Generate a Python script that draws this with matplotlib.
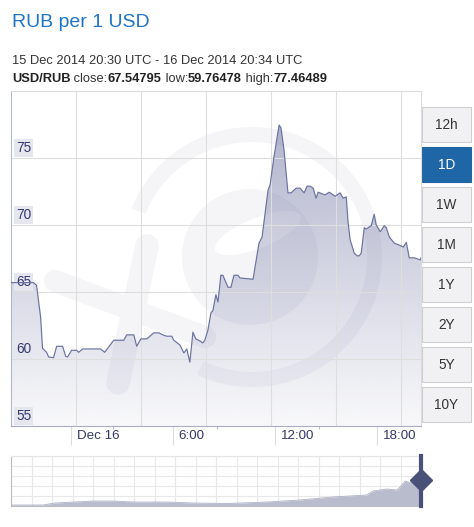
import numpy as np
import matplotlib
matplotlib.use("Agg")
import matplotlib.pyplot as plt
from matplotlib import transforms
from matplotlib.patches import Rectangle, Circle, Wedge, Ellipse

plt.rcParams['font.family'] = ['Liberation Sans', 'DejaVu Sans']

# ---------------- data ----------------
title = "RUB per 1 USD"
range_text = "15 Dec 2014 20:30 UTC - 16 Dec 2014 20:34 UTC"
pair = "USD/RUB"
close_v, low_v, high_v = "67.54795", "59.76478", "77.46489"

# hours relative to 16 Dec 2014 00:00 UTC
hours = [-3.5, -2.18, -2.0, -1.76, -1.65, -1.41, -1.29, -1.0, -0.82, -0.47,
         -0.29, -0.18, 0.06, 0.35, 0.47, 0.71, 1.76, 2.0, 2.53, 3.12,
         3.29, 3.71, 3.88, 4.12, 4.47, 4.88, 5.18, 5.41, 5.65, 5.94,
         6.06, 6.41, 6.65, 6.82, 7.0, 7.18, 7.35, 7.59, 7.76, 7.88,
         8.06, 8.24, 8.35, 8.53, 8.65, 8.82, 8.94, 9.24, 9.41, 9.59,
         9.82, 9.94, 10.71, 10.82, 11.06, 11.24, 11.59, 11.71, 11.94, 12.24,
         12.35, 12.53, 12.76, 12.94, 13.24, 13.47, 13.71, 13.88, 14.06, 14.24,
         14.41, 14.53, 14.82, 14.94, 15.18, 15.53, 15.82, 16.0, 16.18, 16.29,
         16.41, 16.65, 16.82, 16.94, 17.06, 17.24, 17.35, 17.65, 17.82, 17.94,
         18.18, 18.41, 18.53, 18.71, 19.0, 19.29, 19.53, 19.71, 19.88, 20.18,
         20.53, 20.57]
rates = [65.7, 65.7, 65.5, 63.1, 60.8, 60.5, 60.15, 60.1, 60.95, 60.95,
         60.2, 60.15, 60.65, 60.65, 60.5, 60.75, 60.75, 60.5, 61.4, 61.4,
         61.8, 61.8, 60.95, 61.5, 61.5, 61.95, 61.95, 61.8, 61.7, 61.7,
         61.4, 61.05, 60.45, 60.75, 59.76, 62.0, 61.5, 61.35, 61.2, 61.4,
         62.15, 63.45, 63.6, 64.8, 64.25, 66.25, 66.25, 65.35, 65.35, 66.25,
         66.25, 66.05, 65.95, 66.8, 68.65, 69.1, 72.6, 73.0, 75.1, 77.46,
         77.25, 75.6, 72.4, 72.4, 72.75, 72.75, 72.4, 72.9, 72.9, 72.75,
         72.0, 72.45, 72.3, 72.25, 72.45, 72.15, 72.4, 72.0, 72.1, 70.2,
         68.9, 67.9, 67.7, 67.7, 67.9, 69.8, 69.7, 69.95, 70.8, 70.0,
         69.5, 69.95, 69.8, 69.1, 68.65, 68.5, 68.35, 68.7, 67.55, 67.55,
         67.4, 67.55]

y_ticks = [55, 60, 65, 70, 75]
x_ticks = [0, 6, 12, 18]
x_labels = ["Dec 16", "6:00", "12:00", "18:00"]
x_minor = [2.5, 8.6, 14.6]
buttons = ["12h", "1D", "1W", "1M", "1Y", "2Y", "5Y", "10Y"]
active = "1D"

nav_years = [2004.96, 2005.74, 2006.03, 2006.52, 2006.96, 2007.45, 2007.94,
             2008.76, 2009.40, 2010.23, 2011.20, 2012.01, 2012.81, 2013.64,
             2013.79, 2014.13, 2014.37, 2014.45, 2014.57, 2014.69, 2014.81,
             2014.89, 2014.96]
nav_rate = [25.0, 25.0, 28.1, 29.6, 31.1, 31.1, 29.6, 29.6, 28.1, 27.3,
            29.6, 32.7, 37.3, 40.3, 46.5, 49.5, 48.0, 52.6, 61.7, 58.7,
            66.3, 66.3, 67.5]

# ---------------- layout ----------------
W, H = 474, 527
fig = plt.figure(figsize=(W / 100, H / 100), dpi=100, facecolor='white')


def px_rect(l, t, r, b):
    return [l / W, 1 - b / H, (r - l) / W, (b - t) / H]


bg = fig.add_axes([0, 0, 1, 1], zorder=0)
bg.set_xlim(0, W)
bg.set_ylim(H, 0)
bg.axis('off')

# faint watermark logo
wm = '#f5f5f8'
bg.add_patch(Wedge((252, 257), 130, -158, 115, width=15, facecolor=wm, edgecolor='none'))
bg.add_patch(Circle((250, 257), 68, facecolor=wm, edgecolor='none'))
bg.add_patch(Ellipse((258, 233), 92, 30, angle=-22, facecolor='white', edgecolor='none'))
bg.plot([55, 205], [281, 337], color=wm, lw=16, solid_capstyle='round')
bg.plot([147, 118], [246, 383], color=wm, lw=17, solid_capstyle='round')

# header texts
bg.text(12, 27, title, fontsize=14, color='#1f74c6', va='baseline', ha='left')
bg.text(12, 64, range_text, fontsize=9.3, color='#333333', va='baseline', ha='left')
t = bg.text(12, 82, pair, fontsize=9.3, fontweight='bold', color='#222222',
            va='baseline', ha='left')
parts = [(" close:", 'normal'), (close_v, 'bold'), (" low:", 'normal'),
         (low_v, 'bold'), (" high:", 'normal'), (high_v, 'bold')]
for s, w in parts:
    t = bg.annotate(s, xy=(1, 0), xycoords=t, va='bottom', ha='left',
                    fontsize=9.3, fontweight=w,
                    color='#222222' if w == 'bold' else '#333333')

# range buttons
for i, b in enumerate(buttons):
    top = 107 + 40 * i
    on = (b == active)
    bg.add_patch(Rectangle((422, top), 49, 35,
                           facecolor='#1f66a6' if on else '#f1f1f3',
                           edgecolor='#1f66a6' if on else '#cfcfcf', lw=0.8))
    bg.text(446.5, top + 18, b, ha='center', va='center', fontsize=9.8,
            color='white' if on else '#333333')

# ---------------- main chart ----------------
ax = fig.add_axes(px_rect(11, 91, 421, 426), zorder=1)
ax.set_facecolor('none')
x0, x1 = -3.5, 20.57
y0, y1 = 55, 80

poly = ax.fill_between(hours, rates, y0, facecolor='none', edgecolor='none')
n = 256
grad = np.zeros((n, 1, 4))
grad[:, 0, 0] = 85 / 255
grad[:, 0, 1] = 92 / 255
grad[:, 0, 2] = 145 / 255
grad[:, 0, 3] = np.linspace(0.04, 0.5, n)
im = ax.imshow(grad, extent=[x0, x1, y0, y1], origin='lower', aspect='auto',
               interpolation='bilinear', zorder=1)
im.set_clip_path(poly.get_paths()[0], transform=ax.transData)

ax.plot(hours, rates, color='#6a72a0', lw=0.85, zorder=3)

ax.set_xlim(x0, x1)
ax.set_ylim(y0, y1)

# grid
ax.set_yticks(y_ticks)
ax.grid(axis='y', color='#dedede', lw=0.8, zorder=1.5)
for k in range(1, 7):
    ax.axvline(x0 + (x1 - x0) * k * 65 / 410, color='#dedede', lw=0.8, zorder=1.5)

for side, c in [('left', '#b4b7c9'), ('bottom', '#a9adc8'), ('top', '#dcdcdc'), ('right', '#dcdcdc')]:
    ax.spines[side].set_color(c)
    ax.spines[side].set_linewidth(0.8)

# x ticks
ax.set_xticks(x_ticks)
ax.set_xticklabels(x_labels)
ax.set_xticks(x_minor, minor=True)
ax.tick_params(axis='x', which='major', length=19 * 0.72, width=0.8, color='#dddddd',
               pad=-15 * 0.72, labelsize=9.6, labelcolor='#33396b')
ax.tick_params(axis='x', which='minor', length=3 * 0.72, width=0.8, color='#b8bbd0')
off = transforms.ScaledTranslation(6 / 100, 0, fig.dpi_scale_trans)
for lbl in ax.get_xticklabels():
    lbl.set_ha('left')
    lbl.set_transform(lbl.get_transform() + off)

# y ticks inside
ax.tick_params(axis='y', length=0, pad=-5 * 0.72, labelsize=9.8, labelcolor='#33396b')
offy = transforms.ScaledTranslation(0, 3 / 100, fig.dpi_scale_trans)
for lbl in ax.get_yticklabels():
    lbl.set_ha('left')
    lbl.set_va('bottom')
    lbl.set_transform(lbl.get_transform() + offy)
    lbl.set_bbox(dict(boxstyle='square,pad=0.15', facecolor='#e6e6ef', edgecolor='none'))

# ---------------- navigator ----------------
axn = fig.add_axes(px_rect(11, 456, 421, 506), zorder=1)
axn.set_facecolor('none')
nx0, nx1 = nav_years[0], nav_years[-1]
ny0, ny1 = 23.5, 100
axn.set_xlim(nx0, nx1)
axn.set_ylim(ny0, ny1)
axn.set_xticks(np.linspace(nx0, nx1, 21))
axn.set_yticks(np.linspace(ny0, ny1, 6))
axn.grid(True, color='#e8e8e8', lw=0.8)
axn.tick_params(length=0, labelbottom=False, labelleft=False)
axn.fill_between(nav_years, nav_rate, ny0, color='#b9bccd', lw=0, zorder=2)
axn.plot(nav_years, nav_rate, color='#aeb2c6', lw=0.6, zorder=2)
for side, c in [('left', '#bdbdbd'), ('bottom', '#bdbdbd'), ('top', '#e6e6e6'), ('right', '#e6e6e6')]:
    axn.spines[side].set_color(c)
    axn.spines[side].set_linewidth(0.8)

# handle
axn.axvline(nav_years[-1], color='#4a5179', lw=3, clip_on=False, zorder=5)
axn.plot([nav_years[-1]], [0.52], marker='D', ms=11, color='#4a5179',
         transform=transforms.blended_transform_factory(axn.transData, axn.transAxes),
         clip_on=False, zorder=6)

fig.savefig('out.png', dpi=100, facecolor='white')
